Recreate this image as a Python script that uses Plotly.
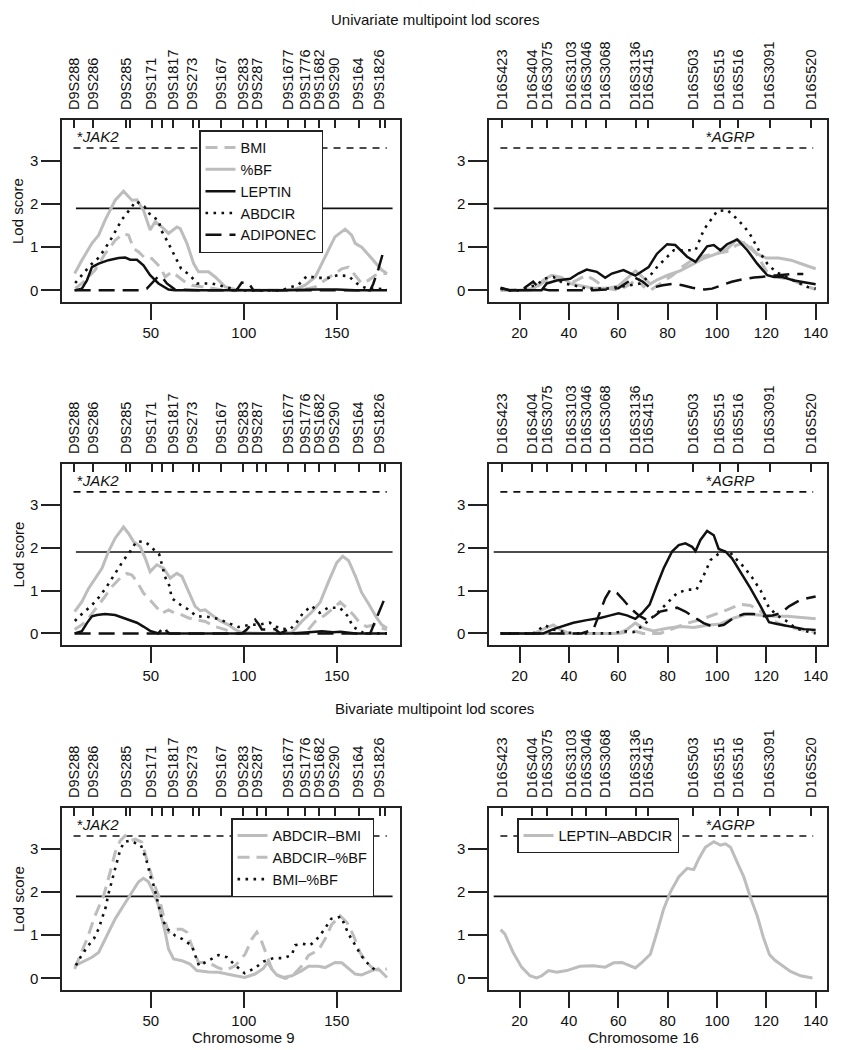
import plotly.graph_objects as go

# ---------------- data ----------------
CHR9_MARKER_CM = [8.6, 19.0, 36.6, 38.7, 50.4, 56.1, 61.8, 72.4, 75.8, 87.8, 99.6, 107.2,
                  111.7, 123.7, 132.8, 140.5, 148.9, 161.8, 173.1, 175.8]
CHR9_MARKER_LABELS = ["D9S288", "D9S286", "D9S285", "", "D9S171", "", "D9S1817", "D9S273", "",
                      "D9S167", "D9S283", "D9S287", "", "D9S1677", "D9S1776", "D9S1682",
                      "D9S290", "D9S164", "D9S1826", ""]
CHR16_MARKER_CM = [12.8, 25.0, 31.1, 41.1, 47.0, 54.9, 67.0, 72.0, 90.2, 101.1, 108.5, 121.3, 138.2]
CHR16_MARKER_LABELS = ["D16S423", "D16S404", "D16S3075", "D16S3103", "D16S3046", "D16S3068",
                       "D16S3136", "D16S415", "D16S503", "D16S515", "D16S516", "D16S3091", "D16S520"]

CHR9_TICKS = [50, 100, 150]
CHR16_TICKS = [20, 40, 60, 80, 100, 120, 140]
LOD_TICKS = [0, 1, 2, 3]

LOD_SUGGESTIVE = 1.9
LOD_SIGNIFICANT = 3.3
CHR9_SUGGESTIVE_SPAN = [9.7, 180.0]
CHR9_SIGNIFICANT_SPAN = [8.4, 176.9]
CHR16_SUGGESTIVE_SPAN = [9.5, 144.6]
CHR16_SIGNIFICANT_SPAN = [12.2, 139.0]

JAK2_CM = 9.0
AGRP_CM = 94.7

# --- Row 1, chromosome 9 (univariate) ---
R1_C9_BMI_X = [9.3, 14.7, 20, 25.4, 30.8, 35.3, 38, 40.7, 43.4, 47, 50.5, 55, 57.7, 61.3, 64.9, 68.5, 72,
               77.4, 82.8, 90, 100, 110, 120, 130, 138.4, 143.7, 149, 152.7, 156.3, 159.9, 163.4, 167,
               170.6, 174.2, 177]
R1_C9_BMI_Y = [0.04, 0.23, 0.47, 0.85, 1.16, 1.32, 1.28, 0.97, 0.89, 0.74, 0.74, 0.54, 0.31, 0.43, 0.31,
               0.19, 0.12, 0.08, 0.04, 0.0, 0.0, 0.0, 0.0, 0.0, 0.08, 0.23, 0.39, 0.5, 0.54, 0.35, 0.16,
               0.23, 0.35, 0.39, 0.39]
R1_C9_PBF_X = [9, 12.9, 18.3, 21.9, 25.4, 30.8, 35.3, 38, 39.8, 42.5, 46, 49.6, 52.3, 55.9, 59.5, 64,
               65.8, 69.4, 73, 75.6, 81, 84.6, 90, 95.3, 100, 110, 120, 127.6, 133, 138.4, 143.7, 149,
               154.5, 158, 159.9, 163.4, 168.8, 174.2, 177]
R1_C9_PBF_Y = [0.39, 0.7, 1.09, 1.28, 1.63, 2.09, 2.30, 2.17, 2.09, 2.1, 1.86, 1.40, 1.59, 1.47, 1.32,
               1.47, 1.43, 1.09, 0.62, 0.43, 0.43, 0.31, 0.08, 0.02, 0.0, 0.0, 0.0, 0.02, 0.12, 0.31,
               0.78, 1.24, 1.42, 1.28, 1.09, 1.0, 0.74, 0.47, 0.39]
R1_C9_LEP_X = [9, 12.9, 15.6, 18.3, 21.9, 27.2, 32.6, 36.2, 38.9, 42.5, 46, 49.6, 54.1, 59.5, 63, 80,
               100, 120, 140, 150, 160, 177]
R1_C9_LEP_Y = [0, 0.04, 0.23, 0.54, 0.62, 0.70, 0.75, 0.76, 0.71, 0.71, 0.58, 0.35, 0.16, 0.02, 0, 0,
               0, 0, 0.02, 0.02, 0, 0]
R1_C9_ABD_X = [9.3, 13.3, 17.4, 21.5, 25.1, 28.7, 34.4, 38.4, 42, 46.6, 50.2, 54.1, 55.5, 59.1, 63,
               66.3, 71.1, 74.7, 79.2, 82.8, 88.2, 93.5, 100, 110, 120, 129.4, 133.9, 139.2, 145.5,
               150.5, 156.3, 160.8, 166.1, 170.6, 177]
R1_C9_ABD_Y = [0.17, 0.37, 0.58, 0.74, 0.95, 1.2, 1.64, 1.86, 2.07, 1.94, 1.72, 1.63, 1.40, 1.12, 0.78,
               0.50, 0.35, 0.16, 0.16, 0.16, 0.1, 0.04, 0.0, 0.0, 0.0, 0.13, 0.33, 0.29, 0.29, 0.35,
               0.33, 0.16, 0.04, 0.04, 0.02]
R1_C9_ADI_X = [9, 30, 45, 47.8, 50.5, 54.1, 55.9, 58.6, 63, 80, 96, 98.9, 102.5, 105.2, 120, 140, 160,
               168, 169.7, 172.4, 175, 176]
R1_C9_ADI_Y = [0, 0, 0, 0.04, 0.16, 0.33, 0.31, 0.16, 0.02, 0, 0, 0.18, 0.17, 0, 0, 0, 0, 0, 0.16,
               0.5, 0.89, 0.97]

# --- Row 1, chromosome 16 (univariate) ---
R1_C16_BMI_X = [12.3, 25, 30, 33, 38, 42, 47, 50, 55, 60, 65, 68, 70, 73, 78, 82, 86, 90, 95, 100, 104,
                108, 112, 116, 120, 125, 130, 135, 140]
R1_C16_BMI_Y = [0, 0, 0.2, 0.3, 0.25, 0.2, 0.35, 0.25, 0.05, 0.0, 0.15, 0.3, 0.1, 0.0, 0.2, 0.35, 0.55,
                0.7, 0.8, 0.85, 0.9, 1.05, 1.12, 0.85, 0.45, 0.3, 0.25, 0.12, 0.02]
R1_C16_PBF_X = [12.3, 20, 26, 30, 33, 37, 41, 45, 50, 56, 60, 64, 67, 70, 73, 76, 80, 85, 90, 95, 100,
                104, 108, 112, 116, 120, 125, 130, 135, 140]
R1_C16_PBF_Y = [0.0, 0.0, 0.05, 0.25, 0.35, 0.3, 0.15, 0.1, 0.05, 0.05, 0.1, 0.3, 0.45, 0.3, 0.15,
                0.25, 0.35, 0.45, 0.6, 0.75, 0.85, 0.95, 1.18, 1.05, 0.85, 0.75, 0.75, 0.7, 0.6, 0.5]
R1_C16_LEP_X = [12.3, 16.1, 20.8, 28.9, 31, 35, 40.5, 43.8, 47.2, 51.3, 54.7, 57.4, 62.1, 66.9, 72.3,
                75.7, 79.8, 83.1, 87.9, 91.3, 96, 98.7, 101.4, 104.1, 108.2, 112.3, 116.3, 120.4, 123.1,
                126.5, 131.2, 135.3, 140]
R1_C16_LEP_Y = [0.06, 0, 0, 0, 0.16, 0.23, 0.27, 0.39, 0.48, 0.43, 0.29, 0.39, 0.47, 0.34, 0.54, 0.85,
                1.07, 1.05, 0.78, 0.66, 1.02, 1.05, 0.93, 1.07, 1.18, 0.93, 0.62, 0.35, 0.31, 0.31,
                0.23, 0.18, 0.14]
R1_C16_ABD_X = [12.3, 16.1, 20.8, 23.5, 26.9, 29.9, 33.7, 37.8, 41.8, 47, 55.4, 60.8, 64.9, 68.9, 73,
                75.7, 79.1, 82.5, 87, 91.3, 94.7, 97.4, 100.1, 104.2, 107.5, 110.9, 113.6, 117.7,
                120.4, 123.8, 128.5, 132.6, 136.7, 140]
R1_C16_ABD_Y = [0.04, 0, 0, 0.08, 0.12, 0.27, 0.31, 0.16, 0.12, 0.04, 0.04, 0.08, 0.12, 0.16, 0.35,
                0.54, 0.74, 0.93, 0.93, 0.93, 1.41, 1.63, 1.84, 1.86, 1.69, 1.49, 1.28, 0.85, 0.62,
                0.43, 0.31, 0.19, 0.08, 0.04]
R1_C16_ADI_X = [12.3, 16, 21, 23, 25.5, 28, 32, 38, 42, 46, 50, 55, 60, 64, 66.5, 70, 73, 78, 82, 86,
                90, 95, 98, 102, 106, 110, 115, 120, 125, 130, 135]
R1_C16_ADI_Y = [0.05, 0.0, 0.02, 0.1, 0.2, 0.05, 0.0, 0.0, 0.0, 0.0, 0.0, 0.02, 0.05, 0.2, 0.3, 0.2,
                0.05, 0.12, 0.15, 0.12, 0.06, 0.02, 0.04, 0.12, 0.2, 0.25, 0.3, 0.32, 0.35, 0.38, 0.38]

# --- Row 2, chromosome 9 (univariate) ---
R2_C9_BMI_X = [9, 12.9, 16.5, 20, 24.6, 29, 33.5, 37.1, 39.8, 42.5, 46, 49.6, 53.2, 55.9, 59.5, 63,
               66.7, 70.3, 73.8, 79.2, 84.6, 90, 95, 110, 133, 138.4, 143.7, 148.2, 151.8, 155.4,
               159, 162.5, 166.1, 170.6, 174.2, 177]
R2_C9_BMI_Y = [0.09, 0.2, 0.36, 0.55, 0.82, 1.09, 1.29, 1.40, 1.36, 1.21, 0.94, 0.78, 0.59, 0.47, 0.55,
               0.47, 0.43, 0.36, 0.32, 0.28, 0.16, 0.09, 0.0, 0.0, 0.0, 0.28, 0.43, 0.59, 0.73, 0.59,
               0.43, 0.24, 0.16, 0.2, 0.12, 0.09]
R2_C9_PBF_X = [9, 12.9, 16.5, 20, 23.7, 27.2, 30.8, 35.3, 38, 40.7, 44.3, 47, 49.6, 53.2, 56.8, 60.4,
               64, 66.7, 70.3, 73.8, 76.5, 79.2, 82.8, 87.3, 91.8, 95.3, 98.9, 110, 125.8, 131.2,
               136.6, 141, 145.5, 150, 153.2, 156.3, 159.9, 163.4, 167, 171.5, 174.2, 177]
R2_C9_PBF_Y = [0.51, 0.74, 1.05, 1.29, 1.52, 1.91, 2.22, 2.48, 2.33, 2.14, 2.02, 1.75, 1.44, 1.6, 1.52,
               1.29, 1.40, 1.33, 0.98, 0.63, 0.53, 0.55, 0.43, 0.29, 0.2, 0.09, 0.02, 0, 0.02, 0.28,
               0.5, 0.72, 1.2, 1.65, 1.8, 1.7, 1.35, 0.95, 0.7, 0.36, 0.2, 0.12]
R2_C9_LEP_X = [9, 12.9, 15.6, 18.3, 21, 25.4, 30.8, 35.3, 38.9, 42.5, 46, 49.6, 54.1, 70, 100, 125,
               135, 142, 148, 152, 160, 177]
R2_C9_LEP_Y = [0, 0.05, 0.24, 0.4, 0.43, 0.45, 0.43, 0.36, 0.29, 0.25, 0.16, 0.06, 0, 0, 0, 0, 0.03,
               0.05, 0.03, 0.04, 0, 0]
R2_C9_ABD_X = [9.1, 13.3, 18.1, 22, 25.8, 29.2, 32.8, 35.5, 39.2, 42.3, 47.2, 50.9, 54.5, 56.1, 57.5,
               60.2, 61.1, 64.7, 69.7, 74.6, 80.3, 86.2, 91.6, 97, 103, 108.6, 114, 119.4, 125, 128.3,
               131.9, 136.4, 140.9, 145.3, 151.6, 156, 158.6, 164, 170, 177]
R2_C9_ABD_Y = [0.29, 0.47, 0.65, 0.84, 1.06, 1.3, 1.53, 1.72, 1.93, 2.15, 2.13, 1.99, 1.84, 1.58, 1.33,
               1.09, 0.83, 0.7, 0.57, 0.4, 0.39, 0.34, 0.25, 0.15, 0.2, 0.21, 0.25, 0.11, 0.1, 0.25,
               0.48, 0.64, 0.48, 0.6, 0.6, 0.4, 0.16, 0.02, 0, 0]
R2_C9_ADI_X = [9, 30, 54, 56, 57.5, 58.5, 60, 80, 98.9, 101.6, 104.3, 106.1, 107.9, 109.7, 112.4,
               116.8, 119.5, 124, 126.5, 150, 168, 170.6, 172.4, 174.2, 176]
R2_C9_ADI_Y = [0, 0, 0, 0.1, 0.15, 0.05, 0, 0, 0, 0.09, 0.24, 0.32, 0.22, 0.09, 0.09, 0.1, 0, 0.09, 0,
               0, 0, 0.28, 0.47, 0.67, 0.84]

# --- Row 2, chromosome 16 (univariate) ---
R2_C16_BMI_X = [12.3, 30, 40, 60, 63.5, 66.9, 70, 77, 82.5, 87.9, 93.3, 98.7, 104.1, 109.5, 113.6,
                117.7, 123.1, 128.5, 133.9, 140]
R2_C16_BMI_Y = [0, 0, 0, 0, 0.03, 0.05, 0, 0, 0.12, 0.24, 0.32, 0.43, 0.55, 0.68, 0.65, 0.51, 0.28,
                0.16, 0.09, 0.03]
R2_C16_PBF_X = [12.3, 26, 30.3, 33.7, 36.4, 40, 50, 60, 63.5, 66.9, 70.3, 74.3, 79.8, 85.2, 90.6, 96,
                101.4, 106.9, 112.3, 117.7, 123.1, 128.5, 135.3, 140]
R2_C16_PBF_Y = [0, 0, 0.12, 0.2, 0.09, 0, 0, 0, 0.09, 0.24, 0.12, 0.06, 0.12, 0.16, 0.14, 0.19, 0.22,
                0.36, 0.45, 0.43, 0.4, 0.4, 0.37, 0.34]
R2_C16_LEP_X = [12.3, 29.6, 33.7, 37.8, 41.8, 47.2, 52.7, 56.8, 60.1, 63.5, 66.9, 69.6, 72.7, 75.7,
                78.4, 81.8, 84.5, 87.2, 89.9, 91.3, 93.3, 96, 98.7, 100.7, 103.4, 106.1, 109.5, 113.6,
                117.7, 121.1, 124.4, 129.8, 135.3, 140]
R2_C16_LEP_Y = [0, 0, 0.1, 0.18, 0.25, 0.31, 0.36, 0.42, 0.47, 0.42, 0.34, 0.47, 0.67, 1.13, 1.52,
                1.91, 2.06, 2.1, 2.02, 1.92, 2.18, 2.39, 2.29, 1.97, 1.91, 1.75, 1.44, 1.05, 0.63,
                0.26, 0.22, 0.16, 0.1, 0.08]
R2_C16_ABD_X = [12.3, 25.6, 30.3, 33.7, 39.1, 44.5, 51.3, 57.4, 62.1, 66.2, 70.3, 75.7, 80.4, 83.8,
                87.9, 91.7, 94.6, 97.4, 101.4, 104.8, 107.5, 110.9, 114.3, 117.7, 121.1, 124.4,
                127.9, 132, 137.5, 140]
R2_C16_ABD_Y = [0, 0, 0.19, 0.09, 0.02, 0, 0, 0, 0.05, 0.03, 0.2, 0.47, 0.74, 0.94, 1.02, 1.02, 1.35,
                1.71, 1.89, 1.92, 1.75, 1.55, 1.3, 1.0, 0.6, 0.42, 0.3, 0.12, 0.03, 0]
R2_C16_ADI_X = [12.3, 30, 45, 49.9, 52.7, 54.7, 56.8, 59.5, 62.1, 64.9, 68.3, 71.4, 73.7, 77, 80.4,
                83.8, 87.2, 91.3, 94.6, 98.7, 102.8, 106.9, 110.9, 115, 119.1, 122.5, 125.8, 129.2,
                133.2, 136.6, 140]
R2_C16_ADI_Y = [0, 0, 0, 0.09, 0.51, 0.82, 1.02, 0.94, 0.78, 0.59, 0.42, 0.32, 0.36, 0.51, 0.55, 0.6,
                0.51, 0.36, 0.24, 0.15, 0.2, 0.37, 0.45, 0.45, 0.4, 0.42, 0.47, 0.63, 0.76, 0.82, 0.86]

# --- Row 3, chromosome 9 (bivariate) ---
R3_C9_ABD_BMI_X = [9, 12.9, 18.3, 21.9, 26.3, 30.8, 35.3, 39.8, 43.4, 46, 48.7, 51.4, 54.1, 57.7, 59.5,
                   62.2, 66.7, 71.1, 74.7, 81, 86.4, 93.5, 100.5, 106, 110.5, 112.8, 115, 117.7,
                   121.3, 125.8, 131.2, 134.8, 140.2, 143.7, 149.1, 152.7, 156.3, 159.9, 163.4,
                   168.8, 172.4, 177]
R3_C9_ABD_BMI_Y = [0.29, 0.37, 0.49, 0.6, 0.99, 1.38, 1.69, 2.0, 2.24, 2.32, 2.24, 2.0, 1.69, 1.07,
                   0.68, 0.45, 0.41, 0.33, 0.18, 0.15, 0.14, 0.08, 0.02, 0.1, 0.23, 0.37, 0.22, 0.08,
                   0.02, 0.06, 0.18, 0.28, 0.28, 0.25, 0.37, 0.36, 0.24, 0.1, 0.08, 0.18, 0.22, 0.02]
R3_C9_ABD_PBF_X = [9, 12, 15.6, 20, 24.6, 28.1, 30.8, 33.5, 36.2, 38.9, 41.6, 45.1, 47.8, 51.4, 54.1,
                   56.8, 59.5, 63.1, 66.7, 69.4, 72, 75.6, 81, 85.5, 90, 95.3, 100.7, 104.3, 107,
                   109.7, 112.4, 115, 118.6, 122.2, 125.8, 131.2, 134.8, 140.2, 143.7, 147.3, 151.8,
                   155.4, 159, 162.5, 166.1, 169.7, 173.3, 177]
R3_C9_ABD_PBF_Y = [0.22, 0.53, 0.91, 1.45, 1.92, 2.46, 2.92, 3.19, 3.31, 3.19, 3.23, 3.16, 2.77, 2.23,
                   1.92, 1.45, 1.07, 1.14, 1.14, 1.07, 0.76, 0.37, 0.37, 0.26, 0.18, 0.29, 0.56, 0.91,
                   1.07, 0.84, 0.53, 0.22, 0.06, 0.0, 0.04, 0.29, 0.53, 0.66, 0.91, 1.25, 1.45, 1.3,
                   0.99, 0.6, 0.37, 0.22, 0.18, 0.22]
R3_C9_BMI_PBF_X = [9.7, 12.4, 15.8, 19.5, 21.9, 23.8, 25.8, 27, 28.5, 30.3, 31.9, 33.3, 35.5, 38.7,
                   41.6, 44.6, 46.6, 48.4, 49.6, 51.4, 52.9, 54.5, 55.9, 59.1, 63.1, 67, 72, 75.9, 81,
                   86.4, 90.9, 95.7, 100.4, 105.7, 110.5, 115.9, 121.3, 125.8, 127.6, 131.6, 135.7,
                   140.2, 143.7, 147, 152.3, 156.3, 159.5, 163.4, 167.4, 172]
R3_C9_BMI_PBF_Y = [0.3, 0.51, 0.73, 0.93, 1.15, 1.4, 1.66, 1.93, 2.17, 2.44, 2.69, 2.95, 3.16, 3.19,
                   3.14, 3.09, 2.86, 2.63, 2.38, 2.17, 1.92, 1.65, 1.38, 1.14, 0.99, 0.91, 0.76, 0.29,
                   0.41, 0.54, 0.49, 0.29, 0.12, 0.23, 0.39, 0.47, 0.47, 0.54, 0.77, 0.8, 0.77, 0.95,
                   1.16, 1.38, 1.43, 1.03, 0.8, 0.51, 0.31, 0.14]

# --- Row 3, chromosome 16 (bivariate) ---
R3_C16_LEP_ABD_X = [12.3, 14, 17.4, 20.8, 24.2, 26.9, 29, 31.7, 35, 39.1, 44.5, 49.9, 54.7, 58.1, 61.5,
                    64.2, 66.9, 69.6, 73, 75.7, 78.4, 81.1, 84.5, 87.9, 90.6, 92.6, 95.3, 98.7, 101.4,
                    103.4, 105.5, 108.2, 110.9, 113.6, 116.3, 118.8, 121.3, 123.5, 126.5, 129.8,
                    133.9, 138.7]
R3_C16_LEP_ABD_Y = [1.13, 1.03, 0.6, 0.26, 0.06, 0.01, 0.06, 0.18, 0.14, 0.18, 0.28, 0.29, 0.26, 0.36,
                    0.37, 0.31, 0.24, 0.37, 0.56, 1.07, 1.61, 2.0, 2.35, 2.55, 2.52, 2.77, 3.04, 3.17,
                    3.09, 3.12, 3.04, 2.69, 2.35, 1.87, 1.45, 0.95, 0.55, 0.42, 0.3, 0.16, 0.06, 0.01]

# ---------------- styles / layout ----------------
FONT = "Liberation Sans, Arial, Helvetica, sans-serif"
INK = "#111111"
GREY = "#bdbdbd"
PAGE_W, PAGE_H = 846, 1050
BODY_MARGIN = 8                      # default page margin around the plot div
W, H = PAGE_W - 2 * BODY_MARGIN, PAGE_H - BODY_MARGIN
FS = 15

STYLE = {
    "BMI": dict(color=GREY, width=3, dash="12px,7px"),
    "%BF": dict(color=GREY, width=3),
    "LEPTIN": dict(color=INK, width=2.5),
    "ABDCIR": dict(color=INK, width=2.6, dash="2.6px,5.4px"),
    "ADIPONEC": dict(color=INK, width=2.5, dash="16px,8px"),
    "ABDCIR\u2013BMI": dict(color=GREY, width=3),
    "ABDCIR\u2013%BF": dict(color=GREY, width=3, dash="12px,7px"),
    "BMI\u2013%BF": dict(color=INK, width=2.6, dash="2.6px,5.4px"),
    "LEPTIN\u2013ABDCIR": dict(color=GREY, width=3),
}

def px_x(p):
    return (p - BODY_MARGIN) / W

def px_y(p):
    return 1 - (p - BODY_MARGIN) / H

# panel boxes in page pixels: (left, right, top, bottom)
PANELS = [
    dict(idx=1, chrom=9, box=(62, 400, 120, 302), legend="legend",
         series=[("BMI", R1_C9_BMI_X, R1_C9_BMI_Y), ("%BF", R1_C9_PBF_X, R1_C9_PBF_Y),
                 ("LEPTIN", R1_C9_LEP_X, R1_C9_LEP_Y), ("ABDCIR", R1_C9_ABD_X, R1_C9_ABD_Y),
                 ("ADIPONEC", R1_C9_ADI_X, R1_C9_ADI_Y)]),
    dict(idx=2, chrom=16, box=(489, 827, 120, 302), legend=None,
         series=[("BMI", R1_C16_BMI_X, R1_C16_BMI_Y), ("%BF", R1_C16_PBF_X, R1_C16_PBF_Y),
                 ("LEPTIN", R1_C16_LEP_X, R1_C16_LEP_Y), ("ABDCIR", R1_C16_ABD_X, R1_C16_ABD_Y),
                 ("ADIPONEC", R1_C16_ADI_X, R1_C16_ADI_Y)]),
    dict(idx=3, chrom=9, box=(62, 400, 464, 645), legend=None,
         series=[("BMI", R2_C9_BMI_X, R2_C9_BMI_Y), ("%BF", R2_C9_PBF_X, R2_C9_PBF_Y),
                 ("LEPTIN", R2_C9_LEP_X, R2_C9_LEP_Y), ("ABDCIR", R2_C9_ABD_X, R2_C9_ABD_Y),
                 ("ADIPONEC", R2_C9_ADI_X, R2_C9_ADI_Y)]),
    dict(idx=4, chrom=16, box=(489, 827, 464, 645), legend=None,
         series=[("BMI", R2_C16_BMI_X, R2_C16_BMI_Y), ("%BF", R2_C16_PBF_X, R2_C16_PBF_Y),
                 ("LEPTIN", R2_C16_LEP_X, R2_C16_LEP_Y), ("ABDCIR", R2_C16_ABD_X, R2_C16_ABD_Y),
                 ("ADIPONEC", R2_C16_ADI_X, R2_C16_ADI_Y)]),
    dict(idx=5, chrom=9, box=(62, 400, 808, 990), legend="legend2",
         series=[("ABDCIR\u2013BMI", R3_C9_ABD_BMI_X, R3_C9_ABD_BMI_Y),
                 ("ABDCIR\u2013%BF", R3_C9_ABD_PBF_X, R3_C9_ABD_PBF_Y),
                 ("BMI\u2013%BF", R3_C9_BMI_PBF_X, R3_C9_BMI_PBF_Y)]),
    dict(idx=6, chrom=16, box=(489, 827, 808, 990), legend="legend3",
         series=[("LEPTIN\u2013ABDCIR", R3_C16_LEP_ABD_X, R3_C16_LEP_ABD_Y)]),
]

fig = go.Figure()
layout = dict(
    width=W, height=H, margin=dict(l=0, r=0, t=0, b=0, autoexpand=False),
    paper_bgcolor="white", plot_bgcolor="white",
    font=dict(family=FONT, size=FS, color=INK),
    showlegend=True, annotations=[],
)

Y_RANGE = [-0.27, 3.95]

for p in PANELS:
    i = p["idx"]
    xa = "x" if i == 1 else f"x{i}"
    ya = "y" if i == 1 else f"y{i}"
    top_i = i + 6
    l, r, t, b = p["box"]
    if p["chrom"] == 9:
        xrange_ = [2.2, 184.0]
        ticks = CHR9_TICKS
        mpos, mlab = CHR9_MARKER_CM, CHR9_MARKER_LABELS
        sugg, sig = CHR9_SUGGESTIVE_SPAN, CHR9_SIGNIFICANT_SPAN
        gene, gene_x = "JAK2", JAK2_CM
    else:
        xrange_ = [7.6, 144.6]
        ticks = CHR16_TICKS
        mpos, mlab = CHR16_MARKER_CM, CHR16_MARKER_LABELS
        sugg, sig = CHR16_SUGGESTIVE_SPAN, CHR16_SIGNIFICANT_SPAN
        gene, gene_x = "AGRP", AGRP_CM

    # threshold lines
    fig.add_trace(go.Scatter(x=sig, y=[LOD_SIGNIFICANT] * 2, mode="lines", xaxis=xa, yaxis=ya,
                             line=dict(color=INK, width=1.6, dash="7px,6px"),
                             showlegend=False, hoverinfo="skip"))
    fig.add_trace(go.Scatter(x=sugg, y=[LOD_SUGGESTIVE] * 2, mode="lines", xaxis=xa, yaxis=ya,
                             line=dict(color=INK, width=1.6),
                             showlegend=False, hoverinfo="skip"))
    # curves
    for name, xs, ys in p["series"]:
        kw = dict(showlegend=p["legend"] is not None)
        if p["legend"]:
            kw["legend"] = p["legend"]
        fig.add_trace(go.Scatter(x=xs, y=ys, mode="lines", name=name, xaxis=xa, yaxis=ya,
                                 line=dict(**STYLE[name]), hoverinfo="skip", **kw))
    # dummy trace for marker axis
    fig.add_trace(go.Scatter(x=[None], y=[None], xaxis=f"x{top_i}", yaxis=ya,
                             showlegend=False, hoverinfo="skip"))

    axkey = "xaxis" if i == 1 else f"xaxis{i}"
    aykey = "yaxis" if i == 1 else f"yaxis{i}"
    layout[axkey] = dict(
        domain=[px_x(l), px_x(r)], anchor=ya, range=xrange_, tickmode="array", tickvals=ticks,
        ticks="outside", ticklen=16, tickwidth=1.5, tickcolor="#222",
        showline=True, linecolor="#222", linewidth=1.5, mirror=True,
        showgrid=False, zeroline=False, tickfont=dict(size=FS), ticklabelstandoff=0,
    )
    layout[aykey] = dict(
        domain=[px_y(b), px_y(t)], anchor=xa, range=Y_RANGE, tickmode="array", tickvals=LOD_TICKS,
        ticks="outside", ticklen=19, tickwidth=1.5, tickcolor="#222",
        showline=True, linecolor="#222", linewidth=1.5, mirror=True,
        showgrid=False, zeroline=False, tickfont=dict(size=FS),
    )
    layout[f"xaxis{top_i}"] = dict(
        overlaying=xa, anchor=ya, side="top", range=xrange_, tickmode="array",
        tickvals=mpos, ticktext=mlab, tickangle=-90, ticks="inside", ticklen=8,
        tickwidth=1.5, tickcolor="#222", showline=False, showgrid=False, zeroline=False,
        tickfont=dict(size=14.5), ticklabelstandoff=9,
    )
    # gene annotation
    layout["annotations"].append(dict(
        x=gene_x, y=3.57, xref=xa, yref=ya, xanchor="left", yanchor="middle",
        text=f"*<i>{gene}</i>", showarrow=False, font=dict(size=FS)))
    if p["chrom"] == 9:
        layout["annotations"].append(dict(
            x=px_x(18), y=px_y((t + b) / 2), xref="paper", yref="paper", text="Lod score",
            textangle=-90, xanchor="center", yanchor="middle", showarrow=False,
            font=dict(size=FS)))

for text, cx, cy in [("Univariate multipoint lod scores", 434.5, 20),
                     ("Bivariate multipoint lod scores", 434.5, 708),
                     ("Chromosome 9", 243, 1037),
                     ("Chromosome 16", 643, 1037)]:
    layout["annotations"].append(dict(
        x=px_x(cx), y=px_y(cy), xref="paper", yref="paper", text=text,
        xanchor="center", yanchor="middle", showarrow=False, font=dict(size=FS)))

legend_common = dict(xanchor="left", yanchor="top", xref="paper", yref="paper", bgcolor="white",
                     bordercolor="#222", borderwidth=1.5, font=dict(size=14.5, color=INK),
                     itemwidth=30, tracegroupgap=0, traceorder="normal")
layout["legend"] = dict(x=px_x(199), y=px_y(130), **legend_common)
layout["legend2"] = dict(x=px_x(231), y=px_y(818), **legend_common)
layout["legend3"] = dict(x=px_x(517), y=px_y(818), **legend_common)

fig.update_layout(**layout)
fig.write_html("out.html")
